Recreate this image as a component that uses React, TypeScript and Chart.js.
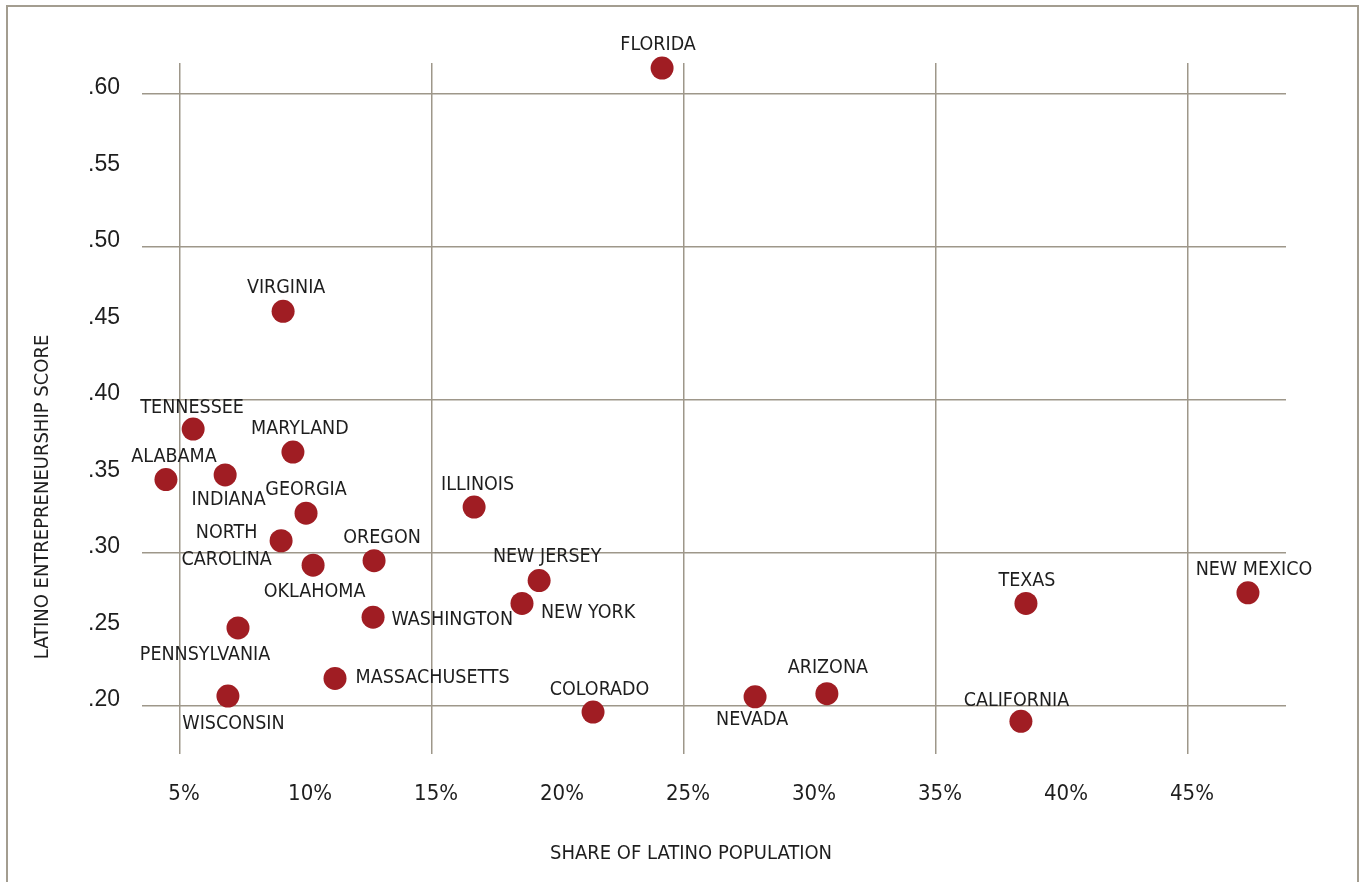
import { useEffect, useRef } from "react";
import { Chart, registerables } from "chart.js";

Chart.register(...registerables);

// ---- data ----
const STATES = [
  "FLORIDA", "VIRGINIA", "TENNESSEE", "MARYLAND", "ALABAMA", "INDIANA",
  "GEORGIA", "ILLINOIS", "NORTH\nCAROLINA", "OKLAHOMA", "OREGON", "NEW JERSEY",
  "NEW YORK", "WASHINGTON", "PENNSYLVANIA", "MASSACHUSETTS", "WISCONSIN",
  "COLORADO", "NEVADA", "ARIZONA", "CALIFORNIA", "TEXAS", "NEW MEXICO",
];
const LATINO_SHARE = [
  24.13, 9.09, 5.52, 9.48, 4.44, 6.79,
  10.0, 16.67, 9.01, 10.28, 12.7, 19.25,
  18.57, 12.66, 7.3, 11.15, 6.9,
  21.39, 27.82, 30.67, 38.37, 38.57, 47.38,
];
const ENTREPRENEURSHIP_SCORE = [
  0.617, 0.458, 0.381, 0.366, 0.348, 0.351,
  0.326, 0.33, 0.308, 0.292, 0.295, 0.282,
  0.267, 0.258, 0.251, 0.218, 0.2065,
  0.196, 0.206, 0.208, 0.19, 0.267, 0.274,
];
const X_TICKS = [5, 10, 15, 20, 25, 30, 35, 40, 45];
const Y_TICKS = [0.2, 0.25, 0.3, 0.35, 0.4, 0.45, 0.5, 0.55, 0.6];
const X_TITLE = "SHARE OF LATINO POPULATION";
const Y_TITLE = "LATINO ENTREPRENEURSHIP SCORE";

// ---- style / label placement (dx, dy relative to the dot, text alignment) ----
const LABEL_PLACEMENT: [number, number, CanvasTextAlign][] = [
  [-4, -23, "center"], [3, -23, "center"], [-1, -21.5, "center"], [7, -23, "center"],
  [8, -22.5, "center"], [3.5, 24.5, "center"], [0, -23, "center"], [3.5, -22, "center"],
  [-54.5, -8, "center"], [1.5, 27, "center"], [8, -22.5, "center"], [8, -24, "center"],
  [19, 9, "left"], [18.5, 3, "left"], [-33, 27, "center"], [20.5, 0, "left"], [5.5, 28, "center"],
  [6.5, -22, "center"], [-3, 23, "center"], [1, -26, "center"], [-4.5, -20, "center"],
  [1, -23, "center"], [6, -22.5, "center"],
];
const DOT_COLOR = "#a01d23";
const GRID_COLOR = "#9e978a";
const TEXT_COLOR = "#1e1e1e";
const NARROW = '"DejaVu Sans Condensed", "Liberation Sans Narrow", sans-serif';
const REGULAR = '"Liberation Sans", Arial, sans-serif';

const labelPlugin = {
  id: "stateLabels",
  afterDatasetsDraw(chart: any) {
    const ctx = chart.ctx as CanvasRenderingContext2D;
    const meta = chart.getDatasetMeta(0);
    ctx.save();
    ctx.font = `19.5px ${NARROW}`;
    ctx.fillStyle = TEXT_COLOR;
    ctx.textBaseline = "middle";
    meta.data.forEach((pt: any, i: number) => {
      const [dx, dy, align] = LABEL_PLACEMENT[i];
      ctx.textAlign = align;
      STATES[i].split("\n").forEach((line, j) => {
        ctx.fillText(line, pt.x + dx, pt.y + dy + j * 27);
      });
    });
    ctx.restore();
  },
};

const axisTitlePlugin = {
  id: "axisTitles",
  afterDraw(chart: any) {
    const ctx = chart.ctx as CanvasRenderingContext2D;
    const area = chart.chartArea;
    ctx.save();
    ctx.font = `20px ${NARROW}`;
    ctx.fillStyle = TEXT_COLOR;
    ctx.textAlign = "center";
    ctx.textBaseline = "middle";
    ctx.fillText(X_TITLE, area.left + 549, area.bottom + 100);
    ctx.translate(43, area.top + 434);
    ctx.rotate(-Math.PI / 2);
    ctx.fillText(Y_TITLE, 0, 0);
    ctx.restore();
  },
};

export default function App() {
  const canvasRef = useRef<HTMLCanvasElement | null>(null);

  useEffect(() => {
    if (!canvasRef.current) return;
    const chart = new Chart(canvasRef.current, {
      type: "scatter",
      data: {
        datasets: [
          {
            data: LATINO_SHARE.map((x, i) => ({ x, y: ENTREPRENEURSHIP_SCORE[i] })),
            backgroundColor: DOT_COLOR,
            borderWidth: 0,
            pointRadius: 11.5,
            pointHoverRadius: 11.5,
            clip: false as any,
          },
        ],
      },
      options: {
        responsive: false,
        animation: false,
        devicePixelRatio: 1,
        layout: { padding: { top: 63, right: 74, left: 0, bottom: 0 } },
        plugins: {
          legend: { display: false },
          tooltip: { enabled: false },
        },
        scales: {
          x: {
            type: "linear",
            min: 3.49,
            max: 48.89,
            afterBuildTicks: (scale: any) => {
              scale.ticks = X_TICKS.map((value) => ({ value }));
            },
            afterFit: (scale: any) => {
              scale.height = 128;
            },
            border: { display: false },
            grid: {
              drawTicks: false,
              lineWidth: 1.5,
              color: (c: any) =>
                c.tick && Math.round(c.tick.value) % 10 === 5 ? GRID_COLOR : "rgba(0,0,0,0)",
            },
            ticks: {
              padding: 27,
              labelOffset: 4,
              maxRotation: 0,
              autoSkip: false,
              color: TEXT_COLOR,
              font: { family: NARROW, size: 22 },
              callback: (v: any) => `${v}%`,
            },
          },
          y: {
            type: "linear",
            min: 0.1686,
            max: 0.6203,
            afterBuildTicks: (scale: any) => {
              scale.ticks = Y_TICKS.map((value) => ({ value }));
            },
            afterFit: (scale: any) => {
              scale.width = 142;
            },
            border: { display: false },
            grid: {
              drawTicks: false,
              lineWidth: 1.5,
              color: (c: any) =>
                c.tick && Math.round(c.tick.value * 100) % 10 === 0 ? GRID_COLOR : "rgba(0,0,0,0)",
            },
            ticks: {
              padding: 22,
              labelOffset: -6,
              autoSkip: false,
              color: TEXT_COLOR,
              font: { family: REGULAR, size: 23 },
              callback: (v: any) => Number(v).toFixed(2).slice(1),
            },
          },
        },
      },
      plugins: [labelPlugin, axisTitlePlugin],
    });
    return () => chart.destroy();
  }, []);

  return (
    <div
      style={{
        position: "absolute",
        left: 0,
        top: 0,
        width: 1360,
        height: 882,
        overflow: "hidden",
        background: "#ffffff",
      }}
    >
      <canvas ref={canvasRef} width={1360} height={882} style={{ position: "absolute", left: 0, top: 0 }} />
      <div
        style={{
          position: "absolute",
          left: 6,
          top: 5,
          width: 1349,
          height: 1000,
          border: "2px solid #a39d90",
          pointerEvents: "none",
        }}
      />
    </div>
  );
}
